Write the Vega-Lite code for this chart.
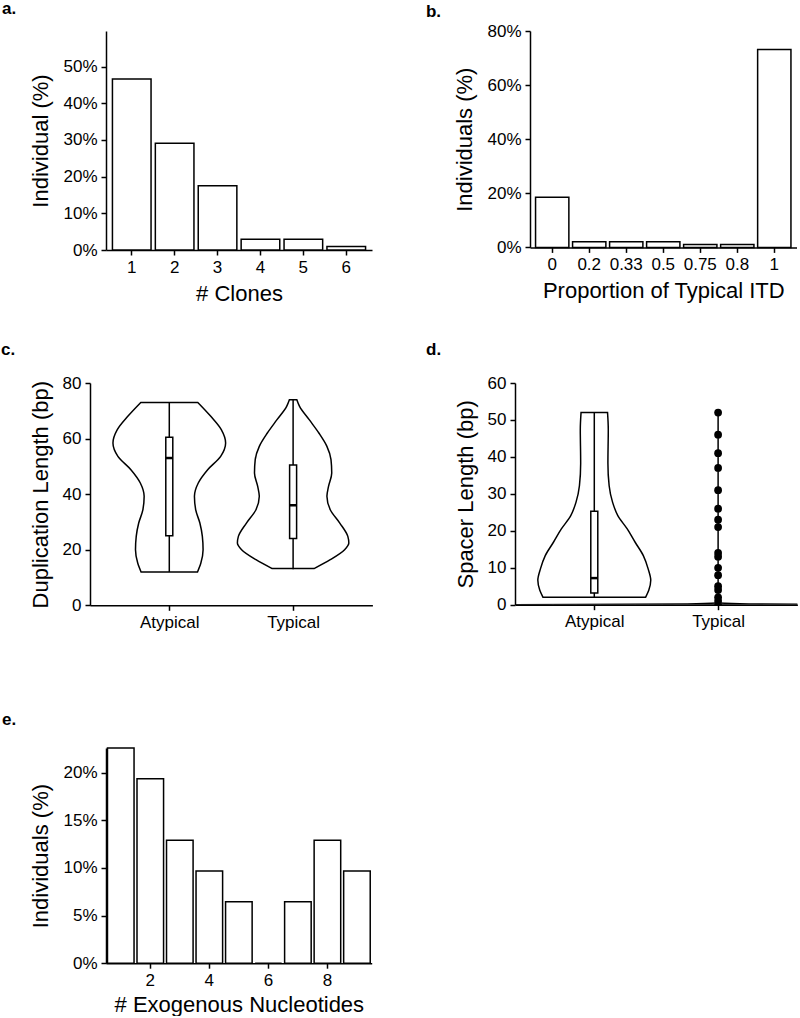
{
  "$schema": "https://vega.github.io/schema/vega-lite/v6.json",
  "background": "white",
  "padding": {"left": 0, "top": 0, "right": 0, "bottom": 0},
  "config": {
    "font": "Liberation Sans",
    "view": {"stroke": null},
    "axis": {
      "grid": false, "domainColor": "black", "domainWidth": 1.5, "tickColor": "black", "tickWidth": 1.5, "tickSize": 5,
      "labelFont": "Liberation Sans", "labelFontSize": 17, "labelColor": "black", "labelPadding": 4, "labelFlush": false, "labelOverlap": false,
      "titleFont": "Liberation Sans", "titleFontSize": 22, "titleFontWeight": "normal", "titleColor": "black", "titlePadding": 8
    },
    "axisY": {"titlePadding": 10},
    "title": {"font": "Liberation Sans", "fontSize": 17, "fontWeight": "bold", "color": "black", "anchor": "start", "frame": "bounds", "baseline": "alphabetic", "dx": -28}
  },
  "columns": 1,
  "align": "none",
  "spacing": 80,
  "concat": [
    {
      "columns": 1,
      "align": "none",
      "spacing": 36,
      "concat": [
        {
          "columns": 2, "align": "none", "spacing": 0,
          "concat": [
            {"width": 1, "height": 1, "data": {"values": []}, "mark": "point"},
            {
              "columns": 2, "align": "none", "spacing": 53,
              "concat": [
                {
                  "title": {"text": "a.", "offset": 12.7},
                  "width": 266, "height": 219,
                  "data": {"values": [
                    {"clones": "1", "pct": 0.466}, {"clones": "2", "pct": 0.291}, {"clones": "3", "pct": 0.175},
                    {"clones": "4", "pct": 0.029}, {"clones": "5", "pct": 0.029}, {"clones": "6", "pct": 0.0097}
                  ]},
                  "mark": {"type": "bar", "fill": "white", "stroke": "black", "strokeWidth": 1.5},
                  "encoding": {
                    "x": {"field": "clones", "type": "ordinal", "sort": null, "scale": {"paddingInner": 0.1, "paddingOuter": 0.15}, "axis": {"title": "# Clones", "labelAngle": 0}},
                    "y": {"field": "pct", "type": "quantitative", "scale": {"domain": [0, 0.597], "nice": false}, "axis": {"title": "Individual (%)", "values": [0, 0.1, 0.2, 0.3, 0.4, 0.5], "format": ".0%"}}
                  }
                },
                {
                  "title": {"text": "b.", "offset": 1},
                  "width": 266.5, "height": 216.4,
                  "data": {"values": [
                    {"prop": "0", "pct": 0.185}, {"prop": "0.2", "pct": 0.021}, {"prop": "0.33", "pct": 0.021},
                    {"prop": "0.5", "pct": 0.021}, {"prop": "0.75", "pct": 0.0105}, {"prop": "0.8", "pct": 0.0105}, {"prop": "1", "pct": 0.732}
                  ]},
                  "mark": {"type": "bar", "fill": "white", "stroke": "black", "strokeWidth": 1.5},
                  "encoding": {
                    "x": {"field": "prop", "type": "ordinal", "sort": null, "scale": {"paddingInner": 0.1, "paddingOuter": 0.15}, "axis": {"title": "Proportion of Typical ITD", "labelAngle": 0}},
                    "y": {"field": "pct", "type": "quantitative", "scale": {"domain": [0, 0.8], "nice": false}, "axis": {"title": "Individuals (%)", "values": [0, 0.2, 0.4, 0.6, 0.8], "format": ".0%"}}
                  }
                }
              ]
            }
          ]
        },
        {
          "columns": 2, "align": "none", "spacing": 0,
          "concat": [
            {"width": 1, "height": 1, "data": {"values": []}, "mark": "point"},
            {
              "columns": 2, "align": "none", "spacing": 53,
              "concat": [
                {
                  "title": {"text": "c.", "offset": 15.4},
                  "width": 282.4, "height": 222.3,
                  "layer": [
                    {
                      "data": {"values": [
                        {"g": "Atypical", "y": 12, "lo": 0.772, "hi": 1.228},
                        {"g": "Atypical", "y": 15.2, "lo": 0.745, "hi": 1.255},
                        {"g": "Atypical", "y": 20, "lo": 0.727, "hi": 1.273},
                        {"g": "Atypical", "y": 24.8, "lo": 0.733, "hi": 1.267},
                        {"g": "Atypical", "y": 29.6, "lo": 0.753, "hi": 1.247},
                        {"g": "Atypical", "y": 34.4, "lo": 0.787, "hi": 1.213},
                        {"g": "Atypical", "y": 39.2, "lo": 0.797, "hi": 1.203},
                        {"g": "Atypical", "y": 44, "lo": 0.766, "hi": 1.234},
                        {"g": "Atypical", "y": 48.8, "lo": 0.69, "hi": 1.31},
                        {"g": "Atypical", "y": 53.6, "lo": 0.585, "hi": 1.415},
                        {"g": "Atypical", "y": 58.4, "lo": 0.545, "hi": 1.455},
                        {"g": "Atypical", "y": 63.2, "lo": 0.58, "hi": 1.42},
                        {"g": "Atypical", "y": 68, "lo": 0.665, "hi": 1.335},
                        {"g": "Atypical", "y": 73, "lo": 0.77, "hi": 1.23},
                        {"g": "Typical", "y": 13.2, "lo": 1.831, "hi": 2.169},
                        {"g": "Typical", "y": 16.4, "lo": 1.7, "hi": 2.3},
                        {"g": "Typical", "y": 20, "lo": 1.584, "hi": 2.416},
                        {"g": "Typical", "y": 22.4, "lo": 1.55, "hi": 2.45},
                        {"g": "Typical", "y": 24.8, "lo": 1.558, "hi": 2.442},
                        {"g": "Typical", "y": 29.6, "lo": 1.623, "hi": 2.377},
                        {"g": "Typical", "y": 34.4, "lo": 1.7, "hi": 2.3},
                        {"g": "Typical", "y": 39.2, "lo": 1.727, "hi": 2.273},
                        {"g": "Typical", "y": 42.8, "lo": 1.714, "hi": 2.286},
                        {"g": "Typical", "y": 47.6, "lo": 1.688, "hi": 2.312},
                        {"g": "Typical", "y": 52.4, "lo": 1.694, "hi": 2.306},
                        {"g": "Typical", "y": 57.2, "lo": 1.727, "hi": 2.273},
                        {"g": "Typical", "y": 62, "lo": 1.792, "hi": 2.208},
                        {"g": "Typical", "y": 66.8, "lo": 1.87, "hi": 2.13},
                        {"g": "Typical", "y": 71.6, "lo": 1.948, "hi": 2.052},
                        {"g": "Typical", "y": 74, "lo": 1.97, "hi": 2.03}
                      ]},
                      "mark": {"type": "area", "orient": "horizontal", "interpolate": "monotone", "fill": "white", "stroke": "black", "strokeWidth": 1.5},
                      "encoding": {
                        "y": {"field": "y", "type": "quantitative", "scale": {"domain": [0, 80], "nice": false}, "axis": {"title": "Duplication Length (bp)", "values": [0, 20, 40, 60, 80]}},
                        "x": {"field": "lo", "type": "quantitative", "scale": {"domain": [0.4, 2.6], "nice": false, "zero": false}, "axis": {"title": null, "values": [1, 2], "labelExpr": "datum.value == 1 ? 'Atypical' : 'Typical'"}},
                        "x2": {"field": "hi"},
                        "detail": {"field": "g"}
                      }
                    },
                    {
                      "data": {"values": [
                        {"g": "Atypical", "pos": 1, "min": 12, "q1": 25, "med": 53, "q3": 60.5, "max": 73},
                        {"g": "Typical", "pos": 2, "min": 13, "q1": 24, "med": 36, "q3": 50.5, "max": 74}
                      ]},
                      "layer": [
                        {
                          "mark": {"type": "rule", "color": "black", "strokeWidth": 1.5},
                          "encoding": {
                            "x": {"field": "pos", "type": "quantitative", "axis": {"title": null, "values": [1, 2], "labelExpr": "datum.value == 1 ? 'Atypical' : 'Typical'"}},
                            "y": {"field": "min", "type": "quantitative", "axis": {"title": "Duplication Length (bp)", "values": [0, 20, 40, 60, 80]}},
                            "y2": {"field": "max"}
                          }
                        },
                        {
                          "mark": {"type": "bar", "fill": "white", "stroke": "black", "strokeWidth": 1.5, "size": 7},
                          "encoding": {
                            "x": {"field": "pos", "type": "quantitative", "axis": {"title": null, "values": [1, 2], "labelExpr": "datum.value == 1 ? 'Atypical' : 'Typical'"}},
                            "y": {"field": "q1", "type": "quantitative", "axis": {"title": "Duplication Length (bp)", "values": [0, 20, 40, 60, 80]}},
                            "y2": {"field": "q3"}
                          }
                        },
                        {
                          "mark": {"type": "tick", "orient": "horizontal", "color": "black", "size": 7, "thickness": 2.5, "opacity": 1},
                          "encoding": {
                            "x": {"field": "pos", "type": "quantitative", "axis": {"title": null, "values": [1, 2], "labelExpr": "datum.value == 1 ? 'Atypical' : 'Typical'"}},
                            "y": {"field": "med", "type": "quantitative", "axis": {"title": "Duplication Length (bp)", "values": [0, 20, 40, 60, 80]}}
                          }
                        }
                      ]
                    }
                  ]
                },
                {
                  "title": {"text": "d.", "offset": 15.4},
                  "width": 282.4, "height": 221.7,
                  "layer": [
                    {
                      "data": {"values": [
                        {"g": "Atypical", "y": 2, "lo": 0.586, "hi": 1.414},
                        {"g": "Atypical", "y": 3.9, "lo": 0.56, "hi": 1.44},
                        {"g": "Atypical", "y": 6.6, "lo": 0.544, "hi": 1.456},
                        {"g": "Atypical", "y": 9.7, "lo": 0.565, "hi": 1.435},
                        {"g": "Atypical", "y": 13.3, "lo": 0.604, "hi": 1.396},
                        {"g": "Atypical", "y": 16.9, "lo": 0.67, "hi": 1.33},
                        {"g": "Atypical", "y": 20.5, "lo": 0.734, "hi": 1.266},
                        {"g": "Atypical", "y": 24.1, "lo": 0.81, "hi": 1.19},
                        {"g": "Atypical", "y": 27.7, "lo": 0.852, "hi": 1.148},
                        {"g": "Atypical", "y": 32.2, "lo": 0.88, "hi": 1.12},
                        {"g": "Atypical", "y": 38.3, "lo": 0.89, "hi": 1.11},
                        {"g": "Atypical", "y": 47.4, "lo": 0.887, "hi": 1.113},
                        {"g": "Atypical", "y": 52, "lo": 0.893, "hi": 1.107},
                        {"g": "Typical", "y": 0, "lo": 0.3, "hi": 3.0},
                        {"g": "Typical", "y": 0.2, "lo": 1.75, "hi": 2.25},
                        {"g": "Typical", "y": 0.45, "lo": 1.99, "hi": 2.01}
                      ]},
                      "mark": {"type": "area", "orient": "horizontal", "interpolate": "monotone", "fill": "white", "stroke": "black", "strokeWidth": 1.5, "clip": true},
                      "encoding": {
                        "y": {"field": "y", "type": "quantitative", "scale": {"domain": [0, 60], "nice": false}, "axis": {"title": "Spacer Length (bp)", "values": [0, 10, 20, 30, 40, 50, 60]}},
                        "x": {"field": "lo", "type": "quantitative", "scale": {"domain": [0.4, 2.6], "nice": false, "zero": false}, "axis": {"title": null, "values": [1, 2], "labelExpr": "datum.value == 1 ? 'Atypical' : 'Typical'"}},
                        "x2": {"field": "hi"},
                        "detail": {"field": "g"}
                      }
                    },
                    {
                      "data": {"values": [
                        {"g": "Atypical", "pos": 1, "min": 2, "q1": 3.2, "med": 7.2, "q3": 25.3, "max": 52},
                        {"g": "Typical", "pos": 2, "min": 0, "q1": 0, "med": 0, "q3": 0, "max": 52}
                      ]},
                      "layer": [
                        {
                          "mark": {"type": "rule", "color": "black", "strokeWidth": 1.5},
                          "encoding": {
                            "x": {"field": "pos", "type": "quantitative", "axis": {"title": null, "values": [1, 2], "labelExpr": "datum.value == 1 ? 'Atypical' : 'Typical'"}},
                            "y": {"field": "min", "type": "quantitative", "axis": {"title": "Spacer Length (bp)", "values": [0, 10, 20, 30, 40, 50, 60]}},
                            "y2": {"field": "max"}
                          }
                        },
                        {
                          "mark": {"type": "bar", "fill": "white", "stroke": "black", "strokeWidth": 1.5, "size": 7},
                          "encoding": {
                            "x": {"field": "pos", "type": "quantitative", "axis": {"title": null, "values": [1, 2], "labelExpr": "datum.value == 1 ? 'Atypical' : 'Typical'"}},
                            "y": {"field": "q1", "type": "quantitative", "axis": {"title": "Spacer Length (bp)", "values": [0, 10, 20, 30, 40, 50, 60]}},
                            "y2": {"field": "q3"}
                          }
                        },
                        {
                          "mark": {"type": "tick", "orient": "horizontal", "color": "black", "size": 7, "thickness": 2.5, "opacity": 1},
                          "encoding": {
                            "x": {"field": "pos", "type": "quantitative", "axis": {"title": null, "values": [1, 2], "labelExpr": "datum.value == 1 ? 'Atypical' : 'Typical'"}},
                            "y": {"field": "med", "type": "quantitative", "axis": {"title": "Spacer Length (bp)", "values": [0, 10, 20, 30, 40, 50, 60]}}
                          }
                        }
                      ]
                    },
                    {
                      "data": {"values": [
                        {"pos": 2, "v": 52}, {"pos": 2, "v": 46}, {"pos": 2, "v": 41}, {"pos": 2, "v": 37},
                        {"pos": 2, "v": 31}, {"pos": 2, "v": 26}, {"pos": 2, "v": 23}, {"pos": 2, "v": 21},
                        {"pos": 2, "v": 14}, {"pos": 2, "v": 13}, {"pos": 2, "v": 10}, {"pos": 2, "v": 8},
                        {"pos": 2, "v": 5}, {"pos": 2, "v": 4}, {"pos": 2, "v": 2}, {"pos": 2, "v": 1}
                      ]},
                      "mark": {"type": "circle", "color": "black", "opacity": 1, "size": 60},
                      "encoding": {
                        "x": {"field": "pos", "type": "quantitative", "axis": {"title": null, "values": [1, 2], "labelExpr": "datum.value == 1 ? 'Atypical' : 'Typical'"}},
                        "y": {"field": "v", "type": "quantitative", "axis": {"title": "Spacer Length (bp)", "values": [0, 10, 20, 30, 40, 50, 60]}}
                      }
                    }
                  ]
                }
              ]
            }
          ]
        }
      ]
    },
    {
      "columns": 2, "align": "none", "spacing": 0,
      "concat": [
        {"width": 1, "height": 1, "data": {"values": []}, "mark": "point"},
        {
          "title": {"text": "e.", "offset": 18},
          "width": 265.7, "height": 215.2,
          "data": {"values": [
            {"n": 1, "pct": 0.2258}, {"n": 2, "pct": 0.1935}, {"n": 3, "pct": 0.129}, {"n": 4, "pct": 0.0968},
            {"n": 5, "pct": 0.0645}, {"n": 6, "pct": 0}, {"n": 7, "pct": 0.0645}, {"n": 8, "pct": 0.129}, {"n": 9, "pct": 0.0968}
          ]},
          "mark": {"type": "bar", "fill": "white", "stroke": "black", "strokeWidth": 1.5},
          "encoding": {
            "x": {"field": "n", "type": "ordinal", "scale": {"paddingInner": 0.1, "paddingOuter": 0.05}, "axis": {"title": "# Exogenous Nucleotides", "labelAngle": 0, "values": [2, 4, 6, 8], "titlePadding": 6}},
            "y": {"field": "pct", "type": "quantitative", "scale": {"domain": [0, 0.2258], "nice": false}, "axis": {"title": "Individuals (%)", "values": [0, 0.05, 0.1, 0.15, 0.2], "format": ".0%"}}
          }
        }
      ]
    }
  ]
}
